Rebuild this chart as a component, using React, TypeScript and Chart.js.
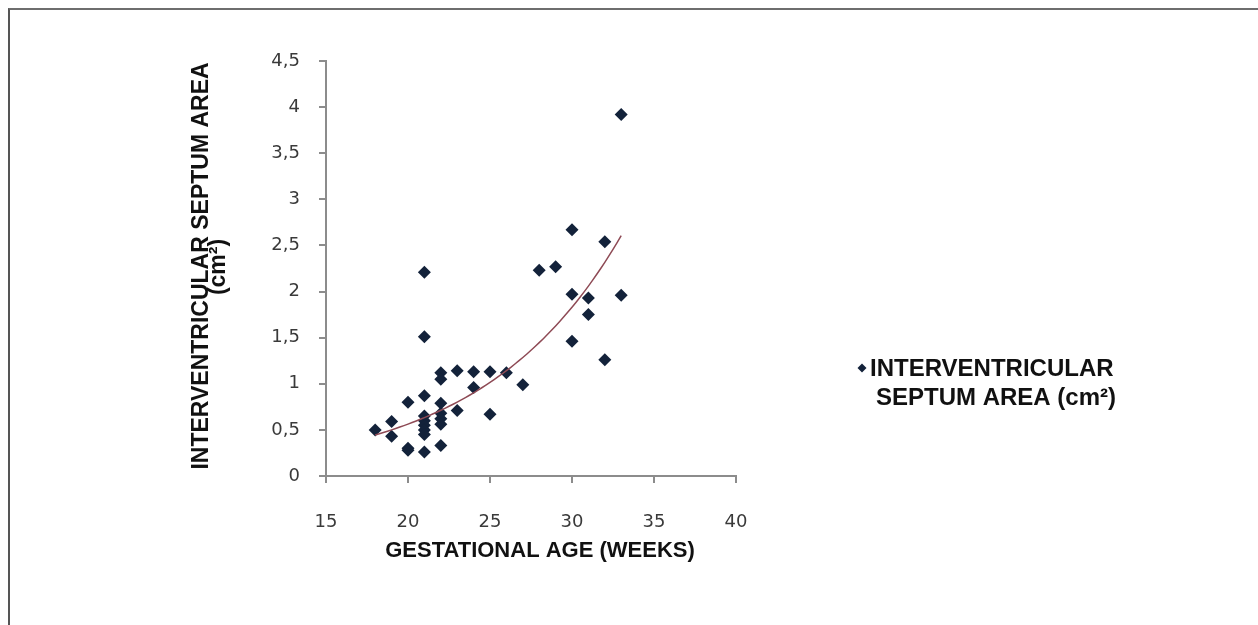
import React, { useEffect, useRef } from "react";
import { Chart, registerables } from "chart.js";

Chart.register(...registerables);

// Gestational age (weeks) of each measurement
const gestationalWeeks = [
  18,
  19, 19,
  20, 20, 20,
  21, 21, 21, 21, 21, 21, 21, 21, 21,
  22, 22, 22, 22, 22, 22, 22,
  23, 23,
  24, 24,
  25, 25,
  26,
  27,
  28,
  29,
  30, 30, 30,
  31, 31,
  32, 32,
  33, 33,
];

// Interventricular septum area (cm²) of each measurement
const septumAreas = [
  0.5,
  0.59, 0.43,
  0.8, 0.3, 0.28,
  2.21, 1.51, 0.87, 0.65, 0.6, 0.55, 0.5, 0.45, 0.26,
  1.12, 1.05, 0.79, 0.68, 0.62, 0.56, 0.33,
  1.14, 0.71,
  1.13, 0.96,
  1.13, 0.67,
  1.12,
  0.99,
  2.23,
  2.27,
  2.67, 1.97, 1.46,
  1.93, 1.75,
  2.54, 1.26,
  3.92, 1.96,
];

const xTickValues = [15, 20, 25, 30, 35, 40];
const yTickValues = [0, 0.5, 1, 1.5, 2, 2.5, 3, 3.5, 4, 4.5];

const xTitle = "GESTATIONAL AGE (WEEKS)";
const yTitleLines = ["INTERVENTRICULAR SEPTUM AREA", "(cm²)"];
const legendLines = ["INTERVENTRICULAR", "SEPTUM AREA (cm²)"];

// Exponential trendline (least squares on ln y), as a spreadsheet trendline does
function exponentialTrend(xs: number[], ys: number[]) {
  const n = xs.length;
  let sx = 0, sy = 0, sxx = 0, sxy = 0;
  for (let i = 0; i < n; i++) {
    const ly = Math.log(ys[i]);
    sx += xs[i];
    sy += ly;
    sxx += xs[i] * xs[i];
    sxy += xs[i] * ly;
  }
  const b = (n * sxy - sx * sy) / (n * sxx - sx * sx);
  const lnA = (sy - b * sx) / n;
  const xmin = Math.min(...xs);
  const xmax = Math.max(...xs);
  const pts: { x: number; y: number }[] = [];
  const steps = 60;
  for (let i = 0; i <= steps; i++) {
    const x = xmin + ((xmax - xmin) * i) / steps;
    pts.push({ x, y: Math.exp(lnA + b * x) });
  }
  return pts;
}

const BOLD = '"Liberation Sans", Arial, sans-serif';
const MARKER = "#13223a";

const textPlugin = {
  id: "customTexts",
  afterDraw(chart: any) {
    const ctx = chart.ctx as CanvasRenderingContext2D;
    ctx.save();
    ctx.fillStyle = "#111111";
    ctx.textBaseline = "alphabetic";

    // X axis title
    ctx.font = `bold 22px ${BOLD}`;
    ctx.textAlign = "center";
    ctx.fillText(xTitle, 540, 557);

    // Y axis title (rotated, two lines)
    ctx.font = `bold 23px ${BOLD}`;
    ctx.save();
    ctx.translate(208, 266);
    ctx.rotate(-Math.PI / 2);
    ctx.fillText(yTitleLines[0], 0, 0);
    ctx.restore();
    ctx.save();
    ctx.translate(225, 267);
    ctx.rotate(-Math.PI / 2);
    ctx.fillText(yTitleLines[1], 0, 0);
    ctx.restore();

    // Legend
    const mx = 862, my = 368, r = 4.5;
    ctx.beginPath();
    ctx.moveTo(mx, my - r);
    ctx.lineTo(mx + r, my);
    ctx.lineTo(mx, my + r);
    ctx.lineTo(mx - r, my);
    ctx.closePath();
    ctx.fillStyle = MARKER;
    ctx.fill();

    ctx.fillStyle = "#111111";
    ctx.font = `bold 24px ${BOLD}`;
    ctx.textAlign = "left";
    ctx.fillText(legendLines[0], 870, 376);
    ctx.fillText(legendLines[1], 876, 405);
    ctx.restore();
  },
};

export default function App() {
  const canvasRef = useRef<HTMLCanvasElement | null>(null);

  useEffect(() => {
    if (!canvasRef.current) return;
    const points = gestationalWeeks.map((x, i) => ({ x, y: septumAreas[i] }));
    const trend = exponentialTrend(gestationalWeeks, septumAreas);
    const axisColor = "#8c8c8c";
    const tickFont = { family: '"DejaVu Sans", sans-serif', size: 18 };

    const chart = new Chart(canvasRef.current, {
      type: "scatter",
      data: {
        datasets: [
          {
            label: "Trend",
            data: trend,
            showLine: true,
            borderColor: "#8e4a55",
            borderWidth: 1.5,
            pointRadius: 0,
            pointHoverRadius: 0,
            fill: false,
          } as any,
          {
            label: legendLines.join(" "),
            data: points,
            pointStyle: "rectRot",
            pointRadius: 6.5,
            pointHoverRadius: 6.5,
            backgroundColor: MARKER,
            borderColor: MARKER,
            borderWidth: 0,
          } as any,
        ],
      },
      options: {
        animation: false,
        responsive: false,
        events: [],
        layout: { padding: { left: 0, top: 61, right: 1258 - 736, bottom: 625 - 476 - 60 } },
        plugins: {
          legend: { display: false },
          tooltip: { enabled: false },
          title: { display: false },
        },
        scales: {
          x: {
            type: "linear",
            min: 15,
            max: 40,
            afterFit: (s: any) => { s.height = 60; },
            afterBuildTicks: (s: any) => { s.ticks = xTickValues.map((v) => ({ value: v })); },
            ticks: {
              color: "#3a3a3a",
              font: tickFont,
              padding: 29,
              maxRotation: 0,
            },
            grid: {
              display: true,
              drawOnChartArea: false,
              drawTicks: true,
              tickLength: 7,
              color: axisColor,
              lineWidth: 2,
            },
            border: { display: true, color: axisColor, width: 2 },
          },
          y: {
            type: "linear",
            min: 0,
            max: 4.5,
            afterFit: (s: any) => { s.width = 326; },
            afterBuildTicks: (s: any) => { s.ticks = yTickValues.map((v) => ({ value: v })); },
            ticks: {
              color: "#3a3a3a",
              font: tickFont,
              padding: 19,
              callback: (v: any) => String(v).replace(".", ","),
            },
            grid: {
              display: true,
              drawOnChartArea: false,
              drawTicks: true,
              tickLength: 7,
              color: axisColor,
              lineWidth: 2,
            },
            border: { display: true, color: axisColor, width: 2 },
          },
        },
      },
      plugins: [textPlugin],
    } as any);

    return () => chart.destroy();
  }, []);

  return (
    <div style={{ position: "fixed", left: 0, top: 0, width: 1258, height: 625, background: "#ffffff" }}>
      <canvas
        ref={canvasRef}
        width={1258}
        height={625}
        style={{ position: "absolute", left: 0, top: 0, width: 1258, height: 625 }}
      />
      <div
        style={{
          position: "absolute",
          left: 8,
          top: 8,
          width: 1258 - 8,
          height: 625 - 8,
          borderTop: "2px solid #6e6e6e",
          borderLeft: "2px solid #555555",
          boxSizing: "border-box",
          pointerEvents: "none",
        }}
      />
    </div>
  );
}
